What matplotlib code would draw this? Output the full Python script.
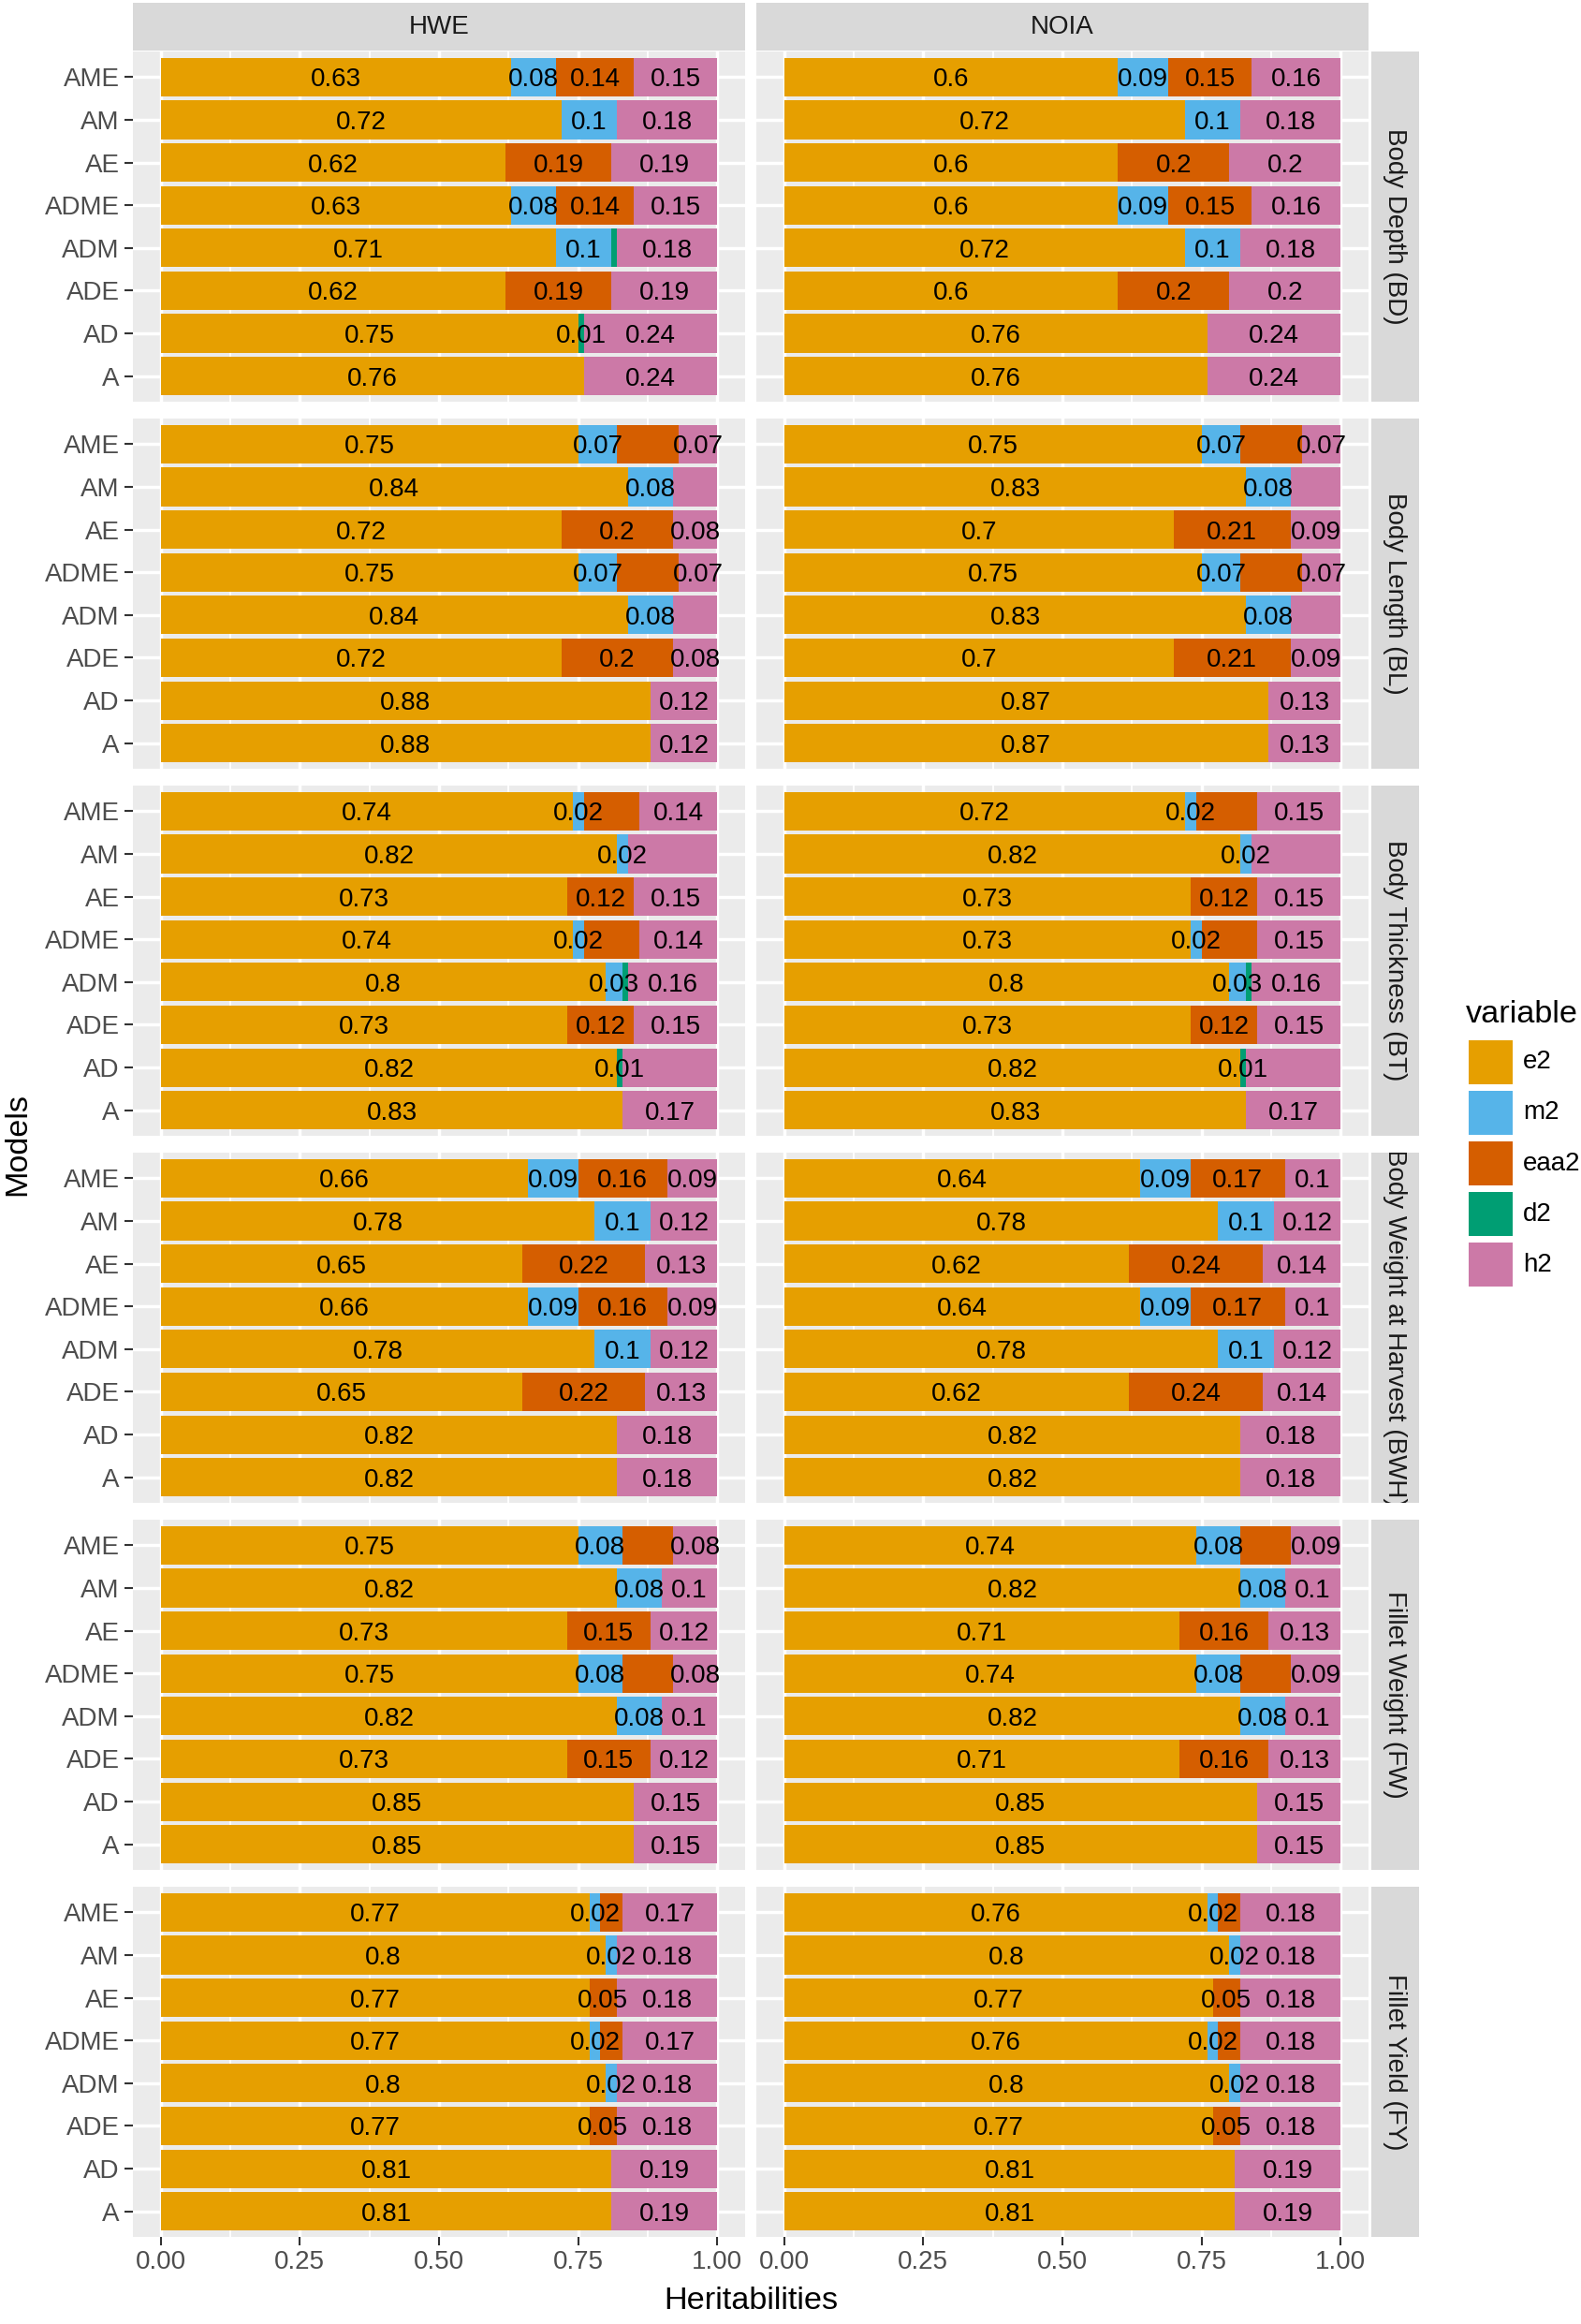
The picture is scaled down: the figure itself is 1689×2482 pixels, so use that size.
import numpy as np
import matplotlib.pyplot as plt
from matplotlib.patches import Rectangle

plt.rcParams['font.family'] = ['Liberation Sans', 'DejaVu Sans']

traits = ["Body Depth (BD)", "Body Length (BL)", "Body Thickness (BT)",
          "Body Weight at Harvest (BWH)", "Fillet Weight (FW)", "Fillet Yield (FY)"]
methods = ["HWE", "NOIA"]
models = ["AME", "AM", "AE", "ADME", "ADM", "ADE", "AD", "A"]
components = ["e2", "m2", "eaa2", "d2", "h2"]
colors = ["#E69F00", "#56B4E9", "#D55E00", "#009E73", "#CC79A7"]

# HWE, one row per trait, columns follow `models`
e2_hwe = [[0.63, 0.72, 0.62, 0.63, 0.71, 0.62, 0.75, 0.76],
          [0.75, 0.84, 0.72, 0.75, 0.84, 0.72, 0.88, 0.88],
          [0.74, 0.82, 0.73, 0.74, 0.80, 0.73, 0.82, 0.83],
          [0.66, 0.78, 0.65, 0.66, 0.78, 0.65, 0.82, 0.82],
          [0.75, 0.82, 0.73, 0.75, 0.82, 0.73, 0.85, 0.85],
          [0.77, 0.80, 0.77, 0.77, 0.80, 0.77, 0.81, 0.81]]
m2_hwe = [[0.08, 0.10, 0, 0.08, 0.10, 0, 0, 0],
          [0.07, 0.08, 0, 0.07, 0.08, 0, 0, 0],
          [0.02, 0.02, 0, 0.02, 0.03, 0, 0, 0],
          [0.09, 0.10, 0, 0.09, 0.10, 0, 0, 0],
          [0.08, 0.08, 0, 0.08, 0.08, 0, 0, 0],
          [0.02, 0.02, 0, 0.02, 0.02, 0, 0, 0]]
eaa2_hwe = [[0.14, 0, 0.19, 0.14, 0, 0.19, 0, 0],
            [0.11, 0, 0.20, 0.11, 0, 0.20, 0, 0],
            [0.10, 0, 0.12, 0.10, 0, 0.12, 0, 0],
            [0.16, 0, 0.22, 0.16, 0, 0.22, 0, 0],
            [0.09, 0, 0.15, 0.09, 0, 0.15, 0, 0],
            [0.04, 0, 0.05, 0.04, 0, 0.05, 0, 0]]
d2_hwe = [[0, 0, 0, 0, 0.01, 0, 0.01, 0],
          [0, 0, 0, 0, 0, 0, 0, 0],
          [0, 0, 0, 0, 0.01, 0, 0.01, 0],
          [0, 0, 0, 0, 0, 0, 0, 0],
          [0, 0, 0, 0, 0, 0, 0, 0],
          [0, 0, 0, 0, 0, 0, 0, 0]]
h2_hwe = [[0.15, 0.18, 0.19, 0.15, 0.18, 0.19, 0.24, 0.24],
          [0.07, 0.08, 0.08, 0.07, 0.08, 0.08, 0.12, 0.12],
          [0.14, 0.16, 0.15, 0.14, 0.16, 0.15, 0.17, 0.17],
          [0.09, 0.12, 0.13, 0.09, 0.12, 0.13, 0.18, 0.18],
          [0.08, 0.10, 0.12, 0.08, 0.10, 0.12, 0.15, 0.15],
          [0.17, 0.18, 0.18, 0.17, 0.18, 0.18, 0.19, 0.19]]

# NOIA
e2_noia = [[0.60, 0.72, 0.60, 0.60, 0.72, 0.60, 0.76, 0.76],
           [0.75, 0.83, 0.70, 0.75, 0.83, 0.70, 0.87, 0.87],
           [0.72, 0.82, 0.73, 0.73, 0.80, 0.73, 0.82, 0.83],
           [0.64, 0.78, 0.62, 0.64, 0.78, 0.62, 0.82, 0.82],
           [0.74, 0.82, 0.71, 0.74, 0.82, 0.71, 0.85, 0.85],
           [0.76, 0.80, 0.77, 0.76, 0.80, 0.77, 0.81, 0.81]]
m2_noia = [[0.09, 0.10, 0, 0.09, 0.10, 0, 0, 0],
           [0.07, 0.08, 0, 0.07, 0.08, 0, 0, 0],
           [0.02, 0.02, 0, 0.02, 0.03, 0, 0, 0],
           [0.09, 0.10, 0, 0.09, 0.10, 0, 0, 0],
           [0.08, 0.08, 0, 0.08, 0.08, 0, 0, 0],
           [0.02, 0.02, 0, 0.02, 0.02, 0, 0, 0]]
eaa2_noia = [[0.15, 0, 0.20, 0.15, 0, 0.20, 0, 0],
             [0.11, 0, 0.21, 0.11, 0, 0.21, 0, 0],
             [0.11, 0, 0.12, 0.10, 0, 0.12, 0, 0],
             [0.17, 0, 0.24, 0.17, 0, 0.24, 0, 0],
             [0.09, 0, 0.16, 0.09, 0, 0.16, 0, 0],
             [0.04, 0, 0.05, 0.04, 0, 0.05, 0, 0]]
d2_noia = [[0, 0, 0, 0, 0, 0, 0, 0],
           [0, 0, 0, 0, 0, 0, 0, 0],
           [0, 0, 0, 0, 0.01, 0, 0.01, 0],
           [0, 0, 0, 0, 0, 0, 0, 0],
           [0, 0, 0, 0, 0, 0, 0, 0],
           [0, 0, 0, 0, 0, 0, 0, 0]]
h2_noia = [[0.16, 0.18, 0.20, 0.16, 0.18, 0.20, 0.24, 0.24],
           [0.07, 0.09, 0.09, 0.07, 0.09, 0.09, 0.13, 0.13],
           [0.15, 0.16, 0.15, 0.15, 0.16, 0.15, 0.17, 0.17],
           [0.10, 0.12, 0.14, 0.10, 0.12, 0.14, 0.18, 0.18],
           [0.09, 0.10, 0.13, 0.09, 0.10, 0.13, 0.15, 0.15],
           [0.18, 0.18, 0.18, 0.18, 0.18, 0.18, 0.19, 0.19]]

# labels that the original dropped (overlapping text)
hidden = {
    "Body Depth (BD)": [("ADM", "d2")],
    "Body Length (BL)": [("AME", "eaa2"), ("ADME", "eaa2"), ("AM", "h2"), ("ADM", "h2")],
    "Body Thickness (BT)": [("AME", "eaa2"), ("ADME", "eaa2"), ("AM", "h2"),
                            ("ADM", "d2"), ("AD", "h2")],
    "Body Weight at Harvest (BWH)": [],
    "Fillet Weight (FW)": [("AME", "eaa2"), ("ADME", "eaa2")],
    "Fillet Yield (FY)": [("AME", "eaa2"), ("ADME", "eaa2")],
}

data = {
    "HWE": {"e2": e2_hwe, "m2": m2_hwe, "eaa2": eaa2_hwe, "d2": d2_hwe, "h2": h2_hwe},
    "NOIA": {"e2": e2_noia, "m2": m2_noia, "eaa2": eaa2_noia, "d2": d2_noia, "h2": h2_noia},
}

W, H = 1690, 2482
fig = plt.figure(figsize=(W / 100, H / 100), dpi=100)


def fax(x0, y0, w, h):
    return fig.add_axes([x0 / W, 1 - (y0 + h) / H, w / W, h / H])


col_x = [142, 808]
pw = 654
row_y = [55 + 392 * i for i in range(6)]
ph = 374
small = 20
big = 24.7

ypos = np.arange(len(models))[::-1] + 1

for r, trait in enumerate(traits):
    for c, meth in enumerate(methods):
        ax = fax(col_x[c], row_y[r], pw, ph)
        ax.set_facecolor('#EBEBEB')
        left = np.zeros(len(models))
        for k, comp in enumerate(components):
            vals = np.array(data[meth][comp][r], dtype=float)
            ax.barh(ypos, vals, left=left, height=0.9, color=colors[k], lw=0, zorder=2)
            for i, m in enumerate(models):
                v = vals[i]
                if v > 0 and (m, comp) not in hidden[trait]:
                    ax.text(left[i] + v / 2, ypos[i], f"{v:g}", ha='center',
                            va='center_baseline', fontsize=small, color='black', zorder=3)
            left += vals

        ax.set_xlim(-0.05, 1.05)
        ax.set_ylim(0.4, len(models) + 0.6)
        ax.set_xticks([0, 0.25, 0.5, 0.75, 1.0])
        ax.set_xticks([0.125, 0.375, 0.625, 0.875], minor=True)
        ax.set_yticks(ypos)
        ax.set_axisbelow(True)
        ax.grid(True, which='major', color='white', lw=2.5)
        ax.grid(True, which='minor', axis='x', color='white', lw=1.3)
        for s in ax.spines.values():
            s.set_visible(False)
        ax.tick_params(which='minor', length=0)

        if c == 0:
            ax.set_yticklabels(models)
            ax.tick_params(axis='y', length=6.2, width=1.5, color='#333333',
                           labelsize=small, labelcolor='#4D4D4D', pad=4)
        else:
            ax.tick_params(axis='y', length=0, labelleft=False)
        if r == len(traits) - 1:
            ax.set_xticklabels(["0.00", "0.25", "0.50", "0.75", "1.00"])
            ax.tick_params(axis='x', length=6.2, width=1.5, color='#333333',
                           labelsize=small, labelcolor='#4D4D4D', pad=4)
        else:
            ax.tick_params(axis='x', length=0, labelbottom=False)

        if r == 0:
            sax = fax(col_x[c], 3, pw, 51)
            sax.set_facecolor('#D9D9D9')
            sax.set_xticks([])
            sax.set_yticks([])
            for s in sax.spines.values():
                s.set_visible(False)
            sax.text(0.5, 0.5, meth, ha='center', va='center', fontsize=small,
                     color='#1A1A1A', transform=sax.transAxes)

    rax = fax(1465, row_y[r], 51, ph)
    rax.set_facecolor('#D9D9D9')
    rax.set_xticks([])
    rax.set_yticks([])
    for s in rax.spines.values():
        s.set_visible(False)
    rax.text(0.5, 0.5, trait, ha='center', va='center', rotation=-90, fontsize=small,
             color='#1A1A1A', transform=rax.transAxes, clip_on=True)

fig.text(19 / W, 1 - 1222 / H, "Models", rotation=90, ha='center', va='center', fontsize=big)
fig.text(802 / W, 1 - 2457 / H, "Heritabilities", ha='center', va='center', fontsize=big)

# legend drawn by hand in pixel coordinates
lax = fax(1560, 1060, 130, 360)
lax.set_xlim(1560, 1690)
lax.set_ylim(1420, 1060)
lax.axis('off')
lax.text(1566, 1084, "variable", ha='left', va='center', fontsize=big)
for k, comp in enumerate(components):
    top = 1111 + 54 * k
    lax.add_patch(Rectangle((1569, top), 47, 47, facecolor=colors[k], lw=0))
    lax.text(1627, top + 23.5, comp, ha='left', va='center', fontsize=small)

fig.savefig('out.png', dpi=100)
